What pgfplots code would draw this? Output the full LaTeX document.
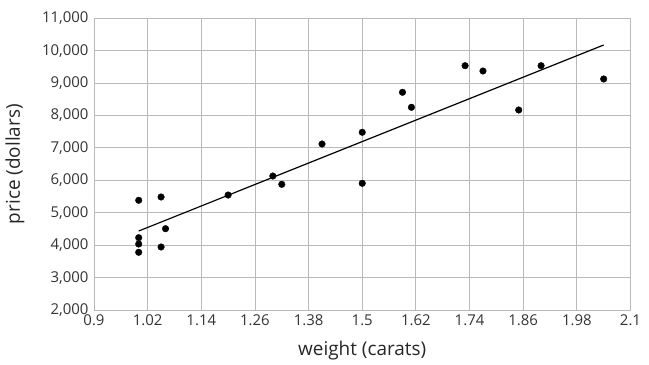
\documentclass[border=0pt]{standalone}
\usepackage{fontspec}
\setmainfont{Open Sans}
\usepackage{pgfplots}
\pgfplotsset{compat=1.18}
\definecolor{gridgray}{RGB}{185,185,185}
\begin{document}
\begin{tikzpicture}[x=1bp,y=1bp]
\useasboundingbox (-94bp,-55bp) rectangle (555bp,310bp);
\begin{axis}[
  at={(0,0)}, anchor=south west,
  scale only axis,
  width=536.5bp, height=291.7bp,
  xmin=0.9, xmax=2.1, ymin=2000, ymax=11000,
  xtick={0.9,1.02,1.14,1.26,1.38,1.5,1.62,1.74,1.86,1.98,2.1},
  xticklabels={0.9,1.02,1.14,1.26,1.38,1.5,1.62,1.74,1.86,1.98,2.1},
  ytick={2000,3000,...,11000},
  /pgf/number format/assume math mode=true,
  /pgf/number format/1000 sep={,},
  scaled y ticks=false,
  major tick length=0pt,
  grid=major,
  major grid style={gridgray, line width=0.9bp},
  axis line style={gridgray, line width=0.9bp},
  tick label style={font=\fontsize{15}{17}\selectfont, text=black!80},
  xticklabel style={yshift=-1bp},
  yticklabel style={xshift=-2bp},
  xlabel={weight (carats)},
  ylabel={price (dollars)},
  label style={font=\fontsize{19}{22}\selectfont, text=black!85},
  xlabel style={at={(rel axis cs:0.5,0)}, anchor=center, yshift=-41bp},
  ylabel style={at={(rel axis cs:0,0.5)}, anchor=center, yshift=79bp},
]
\addplot[only marks, mark=*, mark size=3.3bp, black] coordinates {
(1.00,5385) (1.05,5487) (1.00,4231) (1.00,4036) (1.00,3780) (1.05,3944)
(1.06,4509) (1.20,5548) (1.30,6134) (1.32,5878) (1.41,7122) (1.50,7483)
(1.50,5909) (1.61,8254) (1.59,8717) (1.73,9538) (1.77,9374) (1.85,8171)
(1.90,9538) (2.04,9128)
};
\addplot[black, line width=1.2bp] coordinates {(1.00,4437) (2.04,10176)};
\end{axis}
\end{tikzpicture}
\end{document}
